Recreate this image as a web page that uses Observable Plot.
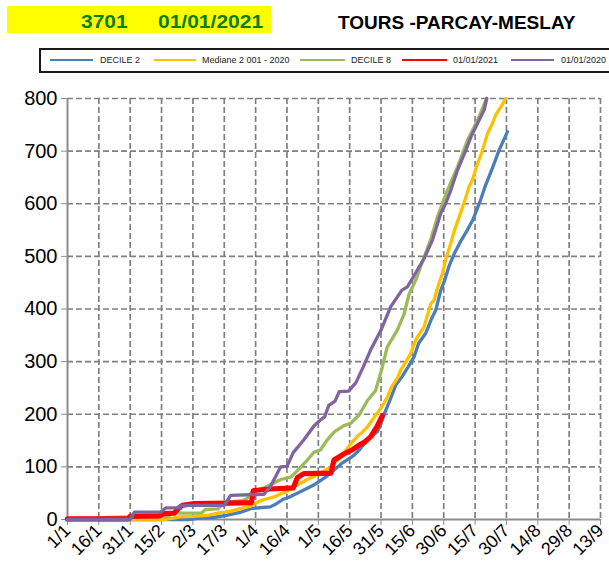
<!DOCTYPE html>
<html><head><meta charset="utf-8">
<script src="https://cdn.jsdelivr.net/npm/d3@7"></script>
<script src="https://cdn.jsdelivr.net/npm/@observablehq/plot@0.6"></script>
<style>
html,body{margin:0;padding:0;background:#fff;}
#page{position:relative;width:609px;height:566px;overflow:hidden;font-family:Arial,"Liberation Sans",sans-serif;}
#badge{position:absolute;left:7px;top:6px;width:264px;height:27px;background:#ffff00;}
.big{position:absolute;font-weight:bold;white-space:nowrap;line-height:1;}
.green{color:#0b7d0b;font-size:17.5px;transform:scaleX(1.2);transform-origin:0 0;top:13.5px;}
#title{left:338px;top:13.2px;font-size:19px;color:#000;}
#legend{position:absolute;left:39px;top:48px;width:600px;height:25px;border:2px solid #1a1a1a;box-sizing:border-box;}
.lg-line{position:absolute;top:59px;height:2px;}
.lg-text{position:absolute;top:55.6px;font-size:9px;line-height:1;color:#222;white-space:nowrap;}
#chart{position:absolute;left:0;top:80px;}
</style></head>
<body><div id="page">
<div id="badge"></div>
<div class="big green" style="left:81px">3701</div>
<div class="big green" style="left:158px">01/01/2021</div>
<div id="title" class="big">TOURS -PARCAY-MESLAY</div>
<div id="legend"></div>
<div id="legend-items"></div>
<div id="chart"></div>
</div>
<script>
// ---- axis ticks ----
const xTickDays = [0,15,30,45,60,75,90,105,120,135,150,165,180,195,210,225,240,255];
const xTickLabels = ["1/1","16/1","31/1","15/2","2/3","17/3","1/4","16/4","1/5","16/5","31/5","15/6","30/6","15/7","30/7","14/8","29/8","13/9"];
const yTicks = [0,100,200,300,400,500,600,700,800];

// ---- series names & colours ----
const seriesNames = ["DECILE 2","Mediane 2 001 -  2020","DECILE 8","01/01/2021","01/01/2020"];
const seriesColors = ["#4a7ebb","#ffc000","#9bbb59","#ff0000","#8064a2"];
const seriesWidths = [3.3,3.3,3.3,5.2,3.3];

// ---- DECILE 2 ----
const decile2Days = [0,58,62,70,76,80,83,88,97,100,103,107,111,115,118,121,124,127,131,134,137,140,143.5,146,148.3,150,151.5,154.6,157,160,163,165.8,168,171.4,174,176.2,178.6,180.5,182.6,185,188,191,194,197.7,200,203,206.5,210.5];
const decile2Values = [0,0,2,4,8,11,14,21,24,30,38,44,52,60,66,74,82,92,106,114,122,134,151,160,167,182,200,230,255,271,290,309,335,354,380,398,436,455,482,505,528,548,570,608,635,665,702,737];

// ---- Mediane 2001-2020 ----
const medianDays = [0,46,50,54,60,67,72,78,83,88,91,94,99,102,105,108,111,114.7,118,121,124,126,128,130.7,134,136,138.7,141,143.5,146,148.3,150,153,155,157.8,159.4,162,164.2,167,170.6,173.8,175.4,177,179.4,181,183.4,185,187.4,190,192.1,194,196.2,198,201,203,205,207.5,209.7];
const medianValues = [0,0,2,5,6,8,12,16,21,26,33,38,43,49,53,62,68,76,82,89,95,100,108,118,136,146,158,166,176,190,203,212,232,252,268,284,300,316,344,366,410,417,440,468,495,525,548,575,605,632,648,677,695,734,750,770,785,800];

// ---- DECILE 8 ----
const decile8Days = [0,10,19,30,48,50,64,66,72,75,84,86,88,94,102,107,110,114.7,118,121,124,127.5,132,135.5,139.4,143.5,147.4,150.3,153,157.8,161,163.4,166.6,170.6,174,177,181.8,186.6,191.4,196.2,200.5];
const decile8Values = [0,1,4,5,5,12,12,19,20,33,36,40,52,60,76,81,93,113,128,132,150,166,178,183,198,226,245,285,328,360,390,428,455,498,535,575,626,670,721,759,800];

// ---- 2021 ----
const y2021Days = [0,29,30,44,46,51,53,55,60,78,88,89,97,108,110,113,126,127.5,132,136,139,142,145,148,150.6];
const y2021Values = [1,1,6,7,11,12,21,27,30,31,32,55,58,60,80,87,88,113,124,132,140,147,157,176,197];

// ---- 2020 ----
const y2020Days = [0,30,32,44.5,47,53,55,75,78,94,97,100,102,105,108,113,118,121,123,125,128,130,134.5,138,141.5,145,148,150,154.6,160,162.6,165,170.6,174.6,178.6,181,183.4,186.6,190.6,193,196.2,199.3,200.6];
const y2020Values = [0,0,14,14,22,22,27,27,46,48,62,85,100,101,127,151,178,189,195,217,225,243,244,260,290,322,345,360,404,436,442,458,496,531,582,601,626,664,702,727,753,778,800];

const allDays = [decile2Days, medianDays, decile8Days, y2021Days, y2020Days];
const allValues = [decile2Values, medianValues, decile8Values, y2021Values, y2020Values];

// legend (HTML)
const legendLayout = [[50,93,100],[154,196,202],[300,345,351],[402,447,453],[511,554,561]];
const li = document.getElementById("legend-items");
seriesNames.forEach((n,i)=>{
  const [a,b,t] = legendLayout[i];
  const l = document.createElement("div");
  l.className="lg-line"; l.style.left=a+"px"; l.style.width=(b-a)+"px"; l.style.background=seriesColors[i];
  li.appendChild(l);
  const s = document.createElement("div");
  s.className="lg-text"; s.style.left=t+"px"; s.textContent=n;
  li.appendChild(s);
});

const gridStyle = {stroke:"#808080", strokeWidth:1.7, strokeDasharray:"6,3"};
const lineMarks = allDays.map((days,i)=>{
  const data = days.map((d,j)=>({day:d, value:allValues[i][j]}));
  return Plot.line(data, {x:"day", y:"value", stroke:seriesColors[i], strokeWidth:seriesWidths[i], strokeLinejoin:"round", strokeLinecap:"round"});
});

const chart = Plot.plot({
  width: 609, height: 486,
  marginTop: 18, marginRight: 9, marginBottom: 47, marginLeft: 67,
  style: {fontFamily: "Arial, 'Liberation Sans', sans-serif", background: "transparent", color: "#000", overflow: "visible"},
  x: {domain: [0,255]},
  y: {domain: [0,800]},
  marks: [
    Plot.ruleX(xTickDays.slice(1), gridStyle),
    Plot.ruleY(yTicks.slice(1), gridStyle),
    Plot.ruleX([0], {stroke:"#8c8c8c", strokeWidth:2}),
    Plot.ruleY([0], {stroke:"#8c8c8c", strokeWidth:2}),
    Plot.axisY({ticks: yTicks, tickSize: 6, tickPadding: 4, fontSize: 20, label: null, stroke: "#8c8c8c", fill: "#000"}),
    Plot.axisX({ticks: xTickDays, tickFormat: d => xTickLabels[xTickDays.indexOf(d)], tickRotate: -45, tickSize: 6, tickPadding: 2, fontSize: 18, label: null, stroke: "#8c8c8c", fill: "#000"}),
    ...lineMarks
  ]
});
document.getElementById("chart").appendChild(chart);
</script>
</body></html>
